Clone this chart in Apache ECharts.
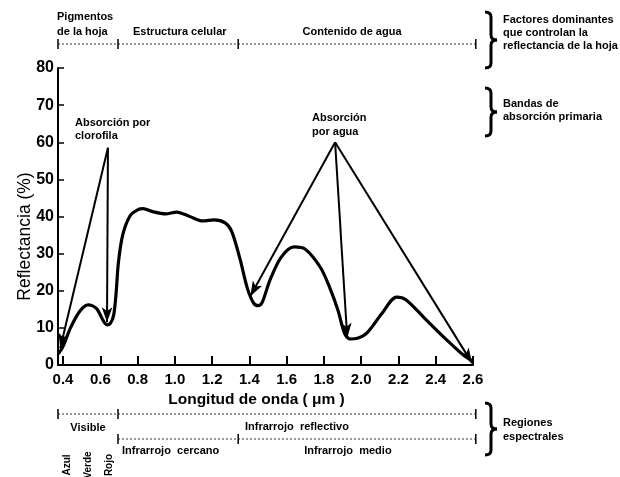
<!DOCTYPE html>
<html>
<head>
<meta charset="utf-8">
<script src="https://cdn.jsdelivr.net/npm/echarts@6/dist/echarts.min.js"></script>
<style>
  html, body { margin: 0; padding: 0; background: #fff; }
  #chart { width: 620px; height: 477px; }
</style>
</head>
<body>
<div id="chart"></div>
<script>
// Spectral reflectance curve of a green leaf (wavelength in µm, reflectance in %)
const wavelength = [0.375, 0.40, 0.44, 0.49, 0.535, 0.58, 0.615, 0.635, 0.655, 0.672, 0.685, 0.697,
  0.72, 0.76, 0.80, 0.83, 0.88, 0.95, 1.01, 1.08, 1.15, 1.21, 1.27, 1.305, 1.35, 1.39, 1.425,
  1.45, 1.47, 1.51, 1.57, 1.64, 1.70, 1.78, 1.83, 1.875, 1.91, 1.94, 1.98, 2.03, 2.11, 2.19,
  2.24, 2.35, 2.46, 2.55, 2.60];
const reflectance = [3.0, 5.0, 10.0, 14.5, 16.2, 15.2, 12.0, 10.8, 11.3, 13.5, 19.5, 27.5,
  35.0, 40.2, 41.8, 42.1, 41.3, 40.7, 41.2, 40.0, 38.8, 39.1, 38.3, 36.0, 28.5, 20.5, 16.5,
  16.0, 17.0, 22.8, 29.0, 31.8, 31.2, 26.4, 21.0, 14.8, 8.6, 7.0, 7.2, 8.6, 13.8, 18.3,
  17.6, 12.1, 6.7, 2.6, 1.0];

// Axis ticks
const xTicks = [0.4, 0.6, 0.8, 1.0, 1.2, 1.4, 1.6, 1.8, 2.0, 2.2, 2.4, 2.6];
const xMin = 0.373;
const xMax = 2.6;

// Absorption arrows: [wavelength, reflectance] of the label anchor and of each pointed minimum
const chlorophyllFrom = [0.641, 58.5];
const chlorophyllTo = [[0.385, 4.5], [0.636, 11.5]];
const waterFrom = [1.86, 60.0];
const waterTo = [[1.405, 18.5], [1.925, 7.3], [2.595, 0.5]];

// Wavelength boundaries of the bracketed ranges
const factorBounds = [0.373, 0.695, 1.34, 2.615];
const factorLabels = ['Estructura celular', 'Contenido de agua'];
const regionBounds = [0.373, 0.695, 2.615];
const regionLabels = ['Visible', 'Infrarrojo  reflectivo'];
const irBounds = [0.695, 1.34, 2.615];
const irLabels = ['Infrarrojo  cercano', 'Infrarrojo  medio'];
const colourLabels = ['Azul', 'Verde', 'Rojo'];

const FONT = '"Liberation Sans", Arial, Helvetica, sans-serif';

const chart = echarts.init(document.getElementById('chart'), null, { renderer: 'canvas' });

function arrowLines(from, targets) {
  return targets.map(t => [{ coord: from }, { coord: t }]);
}

chart.setOption({
  animation: false,
  backgroundColor: '#fff',
  grid: { left: 58, right: 147, top: 68, bottom: 112 },
  xAxis: {
    type: 'value',
    min: xMin,
    max: xMax,
    name: 'Longitud de onda ( \u03BCm )',
    nameLocation: 'middle',
    nameGap: 27,
    nameMoveOverlap: false,
    nameTextStyle: { color: '#000', fontSize: 15.5, fontFamily: FONT, fontWeight: 'bold', padding: [0, 18, 0, 0] },
    axisLine: { lineStyle: { color: '#000', width: 2 } },
    axisTick: { inside: true, length: 9, customValues: xTicks, lineStyle: { color: '#000', width: 2 } },
    axisLabel: {
      customValues: xTicks,
      formatter: v => v.toFixed(1),
      color: '#000', fontSize: 15, fontWeight: 'bold', fontFamily: FONT, margin: 7
    },
    splitLine: { show: false }
  },
  yAxis: {
    type: 'value',
    min: 0,
    max: 80,
    interval: 10,
    name: 'Reflectancia (%)',
    nameLocation: 'middle',
    nameGap: 24,
    nameMoveOverlap: false,
    nameTextStyle: { color: '#000', fontSize: 17.5, fontFamily: FONT, padding: [0, 0, 0, -40] },
    axisLine: { show: true, lineStyle: { color: '#000', width: 2 } },
    axisTick: { show: true, inside: true, length: 6, lineStyle: { color: '#000', width: 1.5 } },
    axisLabel: { color: '#000', fontSize: 16, fontWeight: 'bold', fontFamily: FONT, margin: 4 },
    splitLine: { show: false }
  },
  series: [{
    type: 'line',
    data: wavelength.map((w, i) => [w, reflectance[i]]),
    smooth: 0.3,
    symbol: 'none',
    lineStyle: { color: '#000', width: 3.2 },
    markLine: {
      silent: true,
      symbol: ['none', 'arrow'],
      symbolSize: [8, 15],
      label: { show: false },
      lineStyle: { color: '#000', width: 2, type: 'solid' },
      data: arrowLines(chlorophyllFrom, chlorophyllTo).concat(arrowLines(waterFrom, waterTo))
    }
  }]
});

// ---- annotations drawn around the plot ----
const px = w => chart.convertToPixel({ gridIndex: 0 }, [w, 0])[0];
const txt = (x, y, text, opts = {}) => ({
  type: 'text', x, y, rotation: opts.rotation || 0,
  style: {
    text, fill: '#000', font: `bold ${opts.size || 11}px ${FONT}`,
    align: opts.align || 'left', verticalAlign: 'middle'
  }
});

function dottedRange(bounds, y) {
  const out = [{
    type: 'line',
    shape: { x1: px(bounds[0]), y1: y, x2: px(bounds[bounds.length - 1]), y2: y },
    style: { stroke: '#333', lineWidth: 1, lineDash: [2, 2] }
  }];
  bounds.forEach(b => out.push({
    type: 'line',
    shape: { x1: px(b), y1: y - 5, x2: px(b), y2: y + 5 },
    style: { stroke: '#000', lineWidth: 1.5 }
  }));
  return out;
}

// Curly brace "}" built from quadratic curves and straight strokes
function brace(x, y1, y2, w) {
  const ym = (y1 + y2) / 2, h = w / 2, r = 5;
  const st = { stroke: '#000', lineWidth: 3, fill: null };
  const curve = (a, b, c, d, e, f) => ({
    type: 'bezierCurve', shape: { x1: a, y1: b, x2: c, y2: d, cpx1: e, cpy1: f }, style: st
  });
  const seg = (a, b, c, d) => ({ type: 'line', shape: { x1: a, y1: b, x2: c, y2: d }, style: st });
  return [
    curve(x, y1, x + h, y1 + r, x + h, y1),
    seg(x + h, y1 + r, x + h, ym - r),
    curve(x + h, ym - r, x + w, ym, x + h, ym),
    curve(x + w, ym, x + h, ym + r, x + h, ym),
    seg(x + h, ym + r, x + h, y2 - r),
    curve(x + h, y2 - r, x, y2, x + h, y2)
  ];
}

const g = [];
// leaf factors, top
g.push(...dottedRange(factorBounds, 44));
g.push(txt(57, 17, 'Pigmentos'), txt(57, 32, 'de la hoja'));
g.push(txt(px(factorBounds[1]) + 15, 32, factorLabels[0]));
g.push(txt((px(factorBounds[2]) + px(factorBounds[3])) / 2 - 5, 32, factorLabels[1], { align: 'center' }));
g.push(...brace(485, 12, 68, 12));
g.push(txt(503, 20, 'Factores dominantes'), txt(503, 33, 'que controlan la'), txt(503, 46, 'reflectancia de la hoja'));
// primary absorption bands
g.push(...brace(485, 88, 136, 12));
g.push(txt(503, 104, 'Bandas de'), txt(503, 117, 'absorción primaria'));
g.push(txt(75, 123, 'Absorción por'), txt(75, 136, 'clorofila'));
g.push(txt(312, 118, 'Absorción'), txt(312, 132, 'por agua'));
// spectral regions, bottom
g.push(...dottedRange(regionBounds, 414));
g.push(txt((px(regionBounds[0]) + px(regionBounds[1])) / 2, 428, regionLabels[0], { align: 'center' }));
g.push(txt((px(regionBounds[1]) + px(regionBounds[2])) / 2, 427, regionLabels[1], { align: 'center' }));
g.push(...dottedRange(irBounds, 439));
g.push(txt(px(irBounds[0]) + 4, 451, irLabels[0]));
g.push(txt(px(irBounds[1]) + 66, 451, irLabels[1]));
colourLabels.forEach((c, i) => g.push(txt(67 + i * 21, 465, c, { align: 'center', size: 10, rotation: Math.PI / 2 })));
g.push(...brace(485, 403, 455, 12));
g.push(txt(503, 423, 'Regiones'), txt(503, 437, 'espectrales'));

chart.setOption({ graphic: g });
</script>
</body>
</html>
